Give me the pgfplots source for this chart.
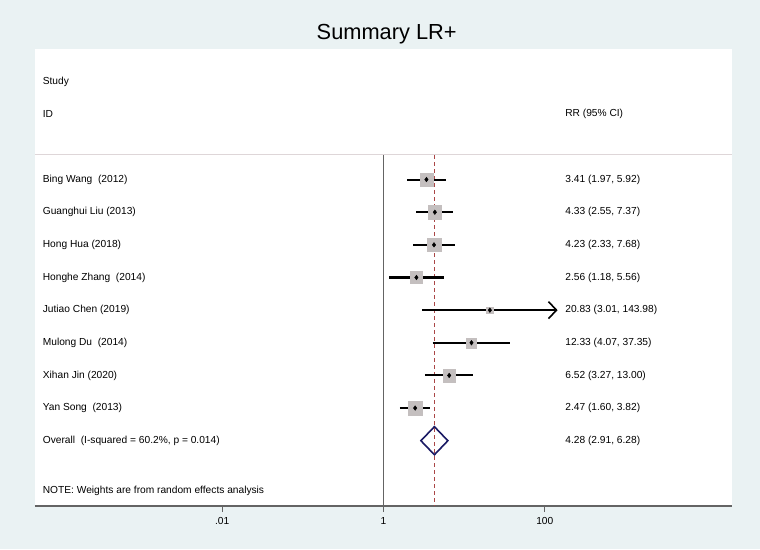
\documentclass[border=0pt]{standalone}
\usepackage{pgfplots}
\pgfplotsset{compat=1.18}
\usetikzlibrary{arrows.meta}
\usepackage{fontspec}
\setmainfont{Liberation Sans}
\definecolor{bgout}{RGB}{234,242,243}
\definecolor{boxgray}{RGB}{196,191,191}
\definecolor{refred}{RGB}{170,70,70}
\definecolor{navy}{RGB}{26,26,100}
\definecolor{sepline}{RGB}{222,214,216}
\definecolor{axgray}{RGB}{100,100,100}
\newcommand{\bodyfont}{\fontsize{10.2}{12}\selectfont}
\tikzset{
  txt/.style={anchor=west, inner sep=0pt, font=\bodyfont},
  ci/.style={black, line width=2.1pt},
  wbox/.style={only marks, mark=square*, mark options={draw=boxgray, fill=boxgray}},
}
\begin{document}
\begin{tikzpicture}
\fill[bgout] (-35pt,-43pt) rectangle (725pt,506pt);
\useasboundingbox (-35pt,-43pt) rectangle (725pt,506pt);
\begin{axis}[
  at={(0pt,0pt)}, anchor=south west,
  scale only axis, width=697pt, height=457pt,
  xmode=log, xmin=4.79e-5, xmax=2.09e4,
  ymin=-10, ymax=4,
  axis x line*=bottom, axis y line=none,
  axis background/.style={fill=white},
  x axis line style={draw=axgray, line width=1.6pt, -},
  xtick={0.01,1,100}, xticklabels={.01,1,100},
  minor xtick={}, 
  tick align=outside, major tick length=6pt,
  every tick/.style={draw=axgray, line width=0.8pt},
  xticklabel style={font=\bodyfont, yshift=-2pt},
  ytick=\empty,
  clip=false,
]
% separator
\addplot[sepline, line width=1.2pt] coordinates {(4.79e-5,0.776) (2.09e4,0.776)};
% reference lines
\addplot[axgray, line width=1.2pt] coordinates {(1,0.74) (1,-10)};
\addplot[refred, line width=1pt, dash pattern=on 4pt off 3pt] coordinates {(4.28,0.74) (4.28,-10)};
% weight boxes
\addplot[wbox, mark size=6.7pt] coordinates {(3.41,0)};
\addplot[wbox, mark size=6.7pt] coordinates {(4.33,-1)};
\addplot[wbox, mark size=6.7pt] coordinates {(4.23,-2)};
\addplot[wbox, mark size=5.8pt] coordinates {(2.56,-3)};
\addplot[wbox, mark size=3.3pt] coordinates {(20.83,-4)};
\addplot[wbox, mark size=5.0pt] coordinates {(12.33,-5)};
\addplot[wbox, mark size=6.3pt] coordinates {(6.52,-6)};
\addplot[wbox, mark size=7.3pt] coordinates {(2.47,-7)};
% confidence intervals
\addplot[ci] coordinates {(1.97,0) (5.92,0)};
\addplot[ci] coordinates {(2.55,-1) (7.37,-1)};
\addplot[ci] coordinates {(2.33,-2) (7.68,-2)};
\addplot[ci] coordinates {(1.18,-3) (5.56,-3)};
\addplot[ci, -{Straight Barb[length=8pt,width=17pt,line width=1.6pt]}] coordinates {(3.01,-4) (143.98,-4)};
\addplot[ci] coordinates {(4.07,-5) (37.35,-5)};
\addplot[ci] coordinates {(3.27,-6) (13.00,-6)};
\addplot[ci] coordinates {(1.60,-7) (3.82,-7)};
% point estimates
\addplot[only marks, mark=diamond*, mark size=2.3pt, black] coordinates {
 (3.41,0) (4.33,-1) (4.23,-2) (2.56,-3) (20.83,-4) (12.33,-5) (6.52,-6) (2.47,-7)};
% overall diamond
\addplot[draw=navy, fill=white, line width=1.6pt, line join=miter] coordinates {
 (2.91,-8) (4.28,-7.57) (6.28,-8) (4.28,-8.43)} -- cycle;
\addplot[refred, line width=1pt, dash pattern=on 4pt off 3pt] coordinates {(4.28,-7.62) (4.28,-8.38)};
% texts
\node[txt] at (axis cs:5.96e-5,3) {Study};
\node[txt] at (axis cs:5.96e-5,2) {ID};
\node[txt] at (axis cs:178.6,2) {RR (95\% CI)};
\node[txt] at (axis cs:5.96e-5,0) {Bing Wang~ (2012)};
\node[txt] at (axis cs:5.96e-5,-1) {Guanghui Liu (2013)};
\node[txt] at (axis cs:5.96e-5,-2) {Hong Hua (2018)};
\node[txt] at (axis cs:5.96e-5,-3) {Honghe Zhang~ (2014)};
\node[txt] at (axis cs:5.96e-5,-4) {Jutiao Chen (2019)};
\node[txt] at (axis cs:5.96e-5,-5) {Mulong Du~ (2014)};
\node[txt] at (axis cs:5.96e-5,-6) {Xihan Jin (2020)};
\node[txt] at (axis cs:5.96e-5,-7) {Yan Song~ (2013)};
\node[txt] at (axis cs:5.96e-5,-8) {Overall~ (I-squared = 60.2\%, p = 0.014)};
\node[txt] at (axis cs:5.96e-5,-9.53) {NOTE: Weights are from random effects analysis};
\node[txt] at (axis cs:178.6,0) {3.41 (1.97, 5.92)};
\node[txt] at (axis cs:178.6,-1) {4.33 (2.55, 7.37)};
\node[txt] at (axis cs:178.6,-2) {4.23 (2.33, 7.68)};
\node[txt] at (axis cs:178.6,-3) {2.56 (1.18, 5.56)};
\node[txt] at (axis cs:178.6,-4) {20.83 (3.01, 143.98)};
\node[txt] at (axis cs:178.6,-5) {12.33 (4.07, 37.35)};
\node[txt] at (axis cs:178.6,-6) {6.52 (3.27, 13.00)};
\node[txt] at (axis cs:178.6,-7) {2.47 (1.60, 3.82)};
\node[txt] at (axis cs:178.6,-8) {4.28 (2.91, 6.28)};
\end{axis}
\node[font=\fontsize{21.8}{25}\selectfont] at (351.7pt,471.5pt) {Summary LR+};
\end{tikzpicture}
\end{document}
